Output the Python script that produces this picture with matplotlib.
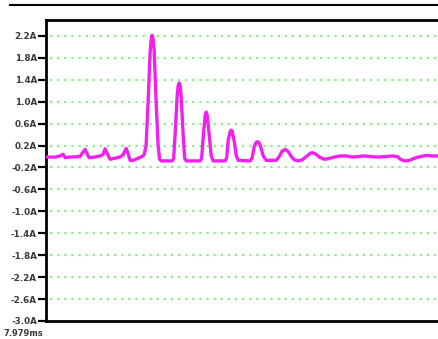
import matplotlib
matplotlib.use('Agg')
import matplotlib.pyplot as plt
from matplotlib.lines import Line2D

# time after trigger (us), trace starts at 7.979 ms
t_us = [0, 4.5, 7, 8.5, 9.5, 12, 17, 18.5, 19.5, 20.5, 21.5, 24.5, 27, 28.5, 29.5,
        30.5, 32, 34.5, 37, 38.5, 40, 41, 42, 43.5, 45.5, 47.5, 49, 50, 51, 52,
        52.5, 53, 53.5, 54, 55, 56, 56.75, 57.5, 63, 63.75, 64.5, 65.5, 66, 66.5,
        67, 67.5, 68.5, 69.25, 70, 77, 77.75, 78.5, 79.5, 80, 80.5, 81.5, 82.5,
        83.5, 89.5, 90.25, 91, 92, 92.5, 93, 94, 95, 96, 102, 103, 104, 105,
        105.75, 106.5, 107.5, 108.5, 110, 115, 116.5, 118, 119.5, 121, 122.5,
        124, 126, 128, 130, 132, 133, 134.5, 136.5, 139, 141, 144, 147, 150,
        153, 156, 159, 162, 166, 170, 173, 175.5, 177, 179, 181.5, 184, 187,
        190, 193, 196.5]
# current (A)
amps = [-0.01, -0.01, 0.01, 0.04, -0.02, -0.01, 0.00, 0.08, 0.13, 0.05, -0.02,
        -0.01, 0.01, 0.04, 0.14, 0.06, -0.05, -0.03, -0.01, 0.03, 0.15, 0.05,
        -0.07, -0.07, -0.04, -0.01, 0.03, 0.20, 1.00, 1.90, 2.12, 2.21, 2.15,
        1.95, 1.00, 0.20, -0.05, -0.08, -0.08, -0.04, 0.40, 1.10, 1.29, 1.34,
        1.29, 1.10, 0.40, -0.03, -0.08, -0.08, -0.03, 0.35, 0.75, 0.81, 0.76,
        0.40, 0.02, -0.08, -0.08, -0.02, 0.30, 0.46, 0.48, 0.46, 0.28, 0.02,
        -0.07, -0.08, -0.02, 0.18, 0.26, 0.27, 0.25, 0.14, 0.01, -0.07, -0.07,
        0.00, 0.10, 0.13, 0.09, 0.00, -0.06, -0.08, -0.06, 0.00, 0.06, 0.07,
        0.05, -0.01, -0.05, -0.04, -0.01, 0.01, 0.01, -0.01, 0.00, 0.01, 0.00,
        -0.01, 0.00, 0.01, 0.00, -0.05, -0.08, -0.07, -0.03, 0.00, 0.02, 0.01,
        0.01]

yticks = [2.2, 1.8, 1.4, 1.0, 0.6, 0.2, -0.2, -0.6, -1.0, -1.4, -1.8, -2.2, -2.6, -3.0]
ytick_labels = ['2.2A', '1.8A', '1.4A', '1.0A', '0.6A', '0.2A', '-0.2A', '-0.6A',
                '-1.0A', '-1.4A', '-1.8A', '-2.2A', '-2.6A', '-3.0A']

fig = plt.figure(figsize=(4.39, 3.39), dpi=100)
ax = fig.add_axes([46 / 439, 18 / 339, 1 - 46 / 439 + 0.01, (321 - 20) / 339])

# grid lines (dotted green)
for yv in yticks[:-1]:
    ax.axhline(yv, xmin=0.01, color='#86ee86', linestyle=(0, (1, 2.2)), linewidth=1.6, zorder=1)

ax.plot(t_us, amps, color='#f020f0', linewidth=2.4, solid_joinstyle='round',
        solid_capstyle='round', zorder=3)

ax.set_xlim(0, 196.5 * 1.01)
ax.set_ylim(-3.0, 2.49)
ax.set_yticks(yticks)
ax.set_yticklabels(ytick_labels, fontsize=6.3, fontweight='bold', color='#3a3a3a')
ax.set_xticks([])
ax.tick_params(axis='y', direction='out', length=6, width=1.6, pad=0.5, color='black')

for side in ['left', 'bottom', 'top']:
    ax.spines[side].set_linewidth(2)
    ax.spines[side].set_color('black')
ax.spines['right'].set_visible(False)

fig.text(23 / 439, 6 / 339, '7.979ms', fontsize=6.0, fontweight='bold',
         color='#3a3a3a', ha='center', va='center')

# top border line of the screenshot
fig.add_artist(Line2D([10 / 439, 1], [1 - 4.5 / 339, 1 - 4.5 / 339], color='black', linewidth=1.5))

fig.savefig('out.png', dpi=100)
